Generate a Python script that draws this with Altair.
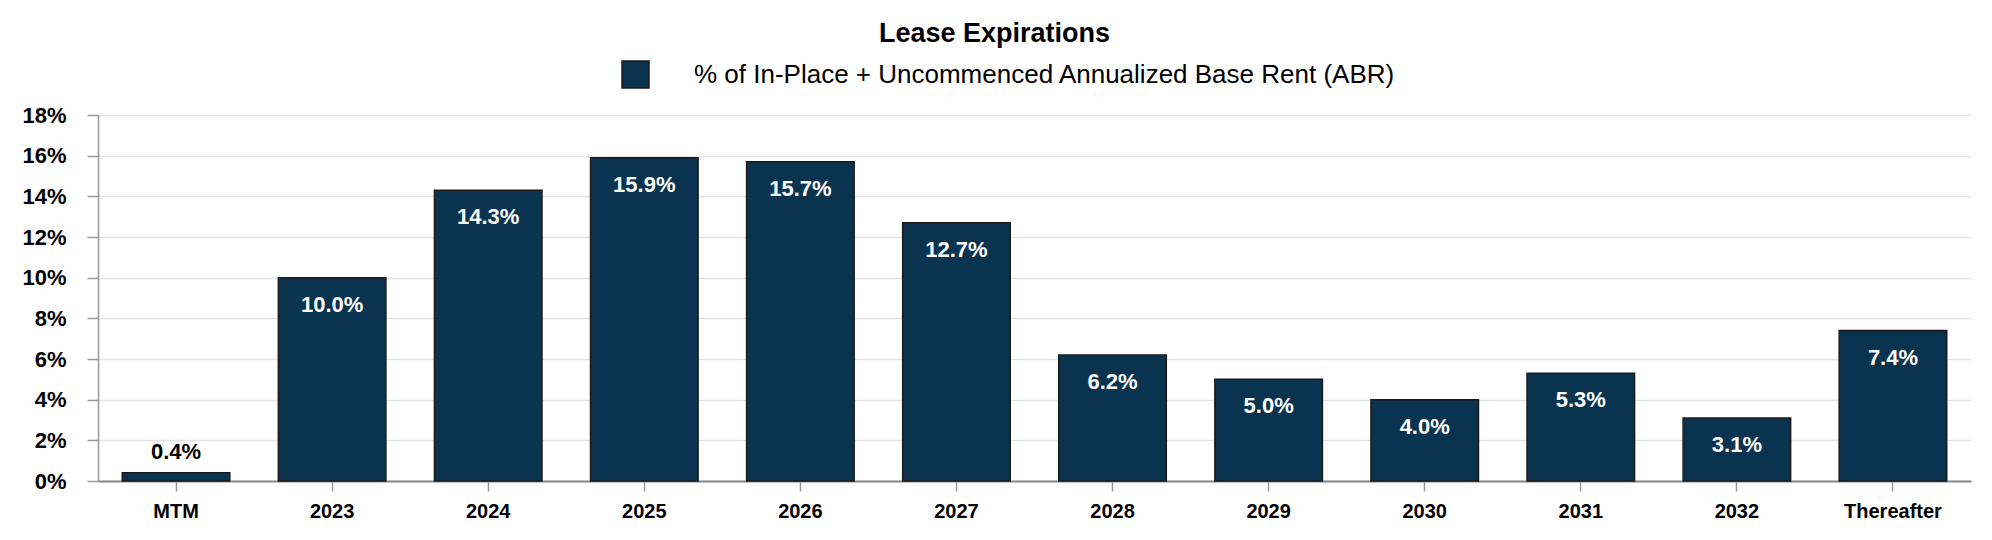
import altair as alt
import pandas as pd

categories = ["MTM", "2023", "2024", "2025", "2026", "2027", "2028",
              "2029", "2030", "2031", "2032", "Thereafter"]
values = [0.4, 10.0, 14.3, 15.9, 15.7, 12.7, 6.2, 5.0, 4.0, 5.3, 3.1, 7.4]
series_name = "% of In-Place + Uncommenced Annualized Base Rent (ABR)"
y_ticks = [0, 2, 4, 6, 8, 10, 12, 14, 16, 18]

df = pd.DataFrame({
    "cat": categories,
    "val": values,
    "series": [series_name] * len(categories),
    "label": [f"{v:.1f}%" for v in values],
})

FONT = "Liberation Sans"
BAR = "#0A3350"

x_enc = alt.X(
    "cat:N", sort=categories,
    scale=alt.Scale(paddingInner=0.311, paddingOuter=0.1555),
    axis=alt.Axis(title=None, labelAngle=0, labelFontSize=20, labelFont=FONT,
                  labelFontWeight="bold", labelColor="black", tickSize=10,
                  tickColor="#999999", tickWidth=1.5, domainColor="#888888",
                  domainWidth=2, labelPadding=10, grid=False),
)
y_enc = alt.Y(
    "val:Q", scale=alt.Scale(domain=[0, 18], nice=False),
    axis=alt.Axis(values=y_ticks, labelExpr="datum.value + '%'", title=None,
                  labelFontSize=22, labelFont=FONT, labelFontWeight="bold",
                  labelColor="black", tickSize=11, tickColor="#999999",
                  tickWidth=1.5, domainColor="#999999", domainWidth=1.5,
                  gridColor="#e3e3e3", gridWidth=1.5, labelPadding=21),
)

bars = alt.Chart(df).mark_bar(stroke="#1a1a1a", strokeWidth=1.5).encode(
    x=x_enc, y=y_enc,
    color=alt.Color(
        "series:N", scale=alt.Scale(range=[BAR]),
        legend=alt.Legend(title=None, orient="none", legendX=523, legendY=-55,
                          symbolType="square", symbolSize=729,
                          symbolStrokeColor="#1a1a1a", symbolStrokeWidth=1.5,
                          labelFontSize=26, labelFont=FONT, labelColor="black",
                          labelOffset=44, labelLimit=1200),
    ),
)

inside = alt.Chart(df).transform_filter("datum.val >= 1").mark_text(
    color="white", font=FONT, fontWeight="bold", fontSize=22,
    baseline="alphabetic", dy=34,
).encode(x=alt.X("cat:N", sort=categories), y="val:Q", text="label:N")

outside = alt.Chart(df).transform_filter("datum.val < 1").mark_text(
    color="black", font=FONT, fontWeight="bold", fontSize=22,
    baseline="alphabetic", dy=-14,
).encode(x=alt.X("cat:N", sort=categories), y="val:Q", text="label:N")

chart = alt.layer(bars, inside, outside).properties(
    width=1873, height=366,
    title=alt.TitleParams("Lease Expirations", fontSize=27, font=FONT,
                          fontWeight="bold", color="black", anchor="middle",
                          dx=-40, offset=12),
    autosize=alt.AutoSizeParams(type="none"),
    padding={"left": 90, "top": 107, "right": 5, "bottom": 48},
).configure_view(stroke=None)

chart.save("out.html", embed_options={"renderer": "svg", "actions": False})
